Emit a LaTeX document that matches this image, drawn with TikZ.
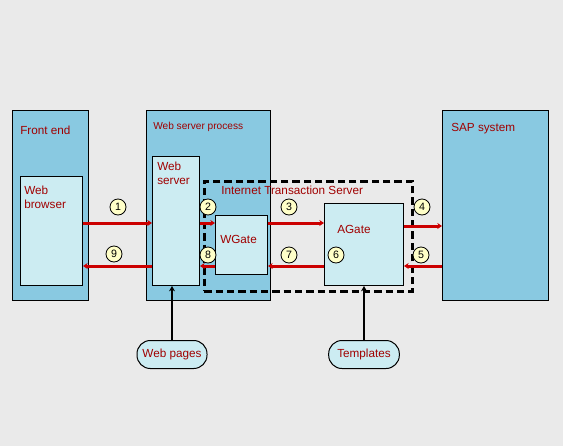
\documentclass[tikz,border=0pt]{standalone}
\usepackage{fontspec}
\setmainfont{Liberation Sans}
\usetikzlibrary{arrows.meta}
\definecolor{bgGray}{HTML}{EAEAEA}
\definecolor{outerBlue}{HTML}{89C9E1}
\definecolor{innerBlue}{HTML}{CCECF2}
\definecolor{txtRed}{HTML}{A00000}
\definecolor{arrRed}{HTML}{CC0000}
\definecolor{numYellow}{HTML}{FFFFC8}
\tikzset{
    outerbox/.style={draw, fill=outerBlue, line width=0.75pt, anchor=north west, inner sep=0pt},
    innerbox/.style={draw, fill=innerBlue, line width=0.75pt, anchor=north west, inner sep=0pt},
    boxlabel/.style={text=txtRed, font=\fontsize{8.8}{10.5}\selectfont, anchor=west, inner sep=0pt, align=left},
    numcircle/.style={circle, draw, fill=numYellow, line width=0.6pt, minimum size=12pt, inner sep=0pt, font=\fontsize{8}{8}\selectfont},
    redarrow/.style={draw=arrRed, line width=2.25pt, -{Stealth[length=3.5pt,width=4.5pt]}},
    blackarrow/.style={line width=1.3pt, -{Stealth[length=4pt,width=4.5pt]}}
}
\begin{document}
\begin{tikzpicture}[x=0.75pt, y=-0.75pt]
    \fill[bgGray] (0,0) rectangle (563,446);
    \useasboundingbox (0,0) rectangle (563,446);
    % outer boxes
    \node[outerbox, minimum width=57pt, minimum height=142.5pt] (frontend) at (12,110) {};
    \node[outerbox, minimum width=93pt, minimum height=142.5pt] (wsprocess) at (146,110) {};
    \node[outerbox, minimum width=79.5pt, minimum height=142.5pt] (sap) at (442,110) {};
    % inner boxes
    \node[innerbox, minimum width=46.5pt, minimum height=81.75pt] (browser) at (20,176) {};
    \node[innerbox, minimum width=35.25pt, minimum height=96.75pt] (webserver) at (152,156) {};
    \node[innerbox, minimum width=39pt, minimum height=44.25pt] (wgate) at (215,215) {};
    \node[innerbox, minimum width=59.25pt, minimum height=61.5pt] (agate) at (324,203) {};
    % ITS frame
    \node[draw, line width=2pt, dash pattern=on 5.5pt off 3pt, anchor=north west, inner sep=0pt,
          minimum width=156pt, minimum height=82.5pt] (its) at (203,180) {};
    % labels
    \node[boxlabel] (frontendlbl) at (20,130) {Front end};
    \node[boxlabel] (browserlbl) at (24,197) {Web\\browser};
    \node[boxlabel, font=\fontsize{7.6}{8}\selectfont] (wsprocesslbl) at (153,127) {Web server process};
    \node[boxlabel] (webserverlbl) at (157,173) {Web\\server};
    \node[boxlabel] (itslbl) at (221,190) {Internet Transaction Server};
    \node[boxlabel] (wgatelbl) at (220,239) {WGate};
    \node[boxlabel] (agatelbl) at (337,229) {AGate};
    \node[boxlabel] (saplbl) at (451,129) {SAP system};
    % sources
    \node[draw, fill=innerBlue, line width=0.75pt, rounded corners=10pt, minimum width=52.5pt, minimum height=21pt,
          text=txtRed, font=\fontsize{8.8}{10}\selectfont] (webpages) at (172,354.5) {Web pages};
    \node[draw, fill=innerBlue, line width=0.75pt, rounded corners=10pt, minimum width=53pt, minimum height=21pt,
          text=txtRed, font=\fontsize{8.8}{10}\selectfont] (templates) at (364,354.5) {Templates};
    % request / response arrows
    \draw[redarrow] (browser.east |- 0,223) -- (webserver.west |- 0,223);
    \draw[redarrow] (webserver.west |- 0,266) -- (browser.east |- 0,266);
    \draw[redarrow] (webserver.east |- 0,223) -- (wgate.west |- 0,223);
    \draw[redarrow] (wgate.west |- 0,266) -- (webserver.east |- 0,266);
    \draw[redarrow] (wgate.east |- 0,223) -- (agate.west |- 0,223);
    \draw[redarrow] (agate.west |- 0,266) -- (wgate.east |- 0,266);
    \draw[redarrow] (agate.east |- 0,226) -- (sap.west |- 0,226);
    \draw[redarrow] (sap.west |- 0,266) -- (agate.east |- 0,266);
    \draw[blackarrow] (webpages.north) -- (webserver.south -| webpages.north);
    \draw[blackarrow] (templates.north) -- (agate.south -| templates.north);
    % step numbers
    \foreach \n/\x/\y in {1/118/207, 2/208/207, 3/289/207, 4/422/207, 5/421/255,
                          6/336/255, 7/289/255, 8/208/255, 9/114/254} {
        \node[numcircle] (num\n) at (\x,\y) {\n};
    }
\end{tikzpicture}
\end{document}
